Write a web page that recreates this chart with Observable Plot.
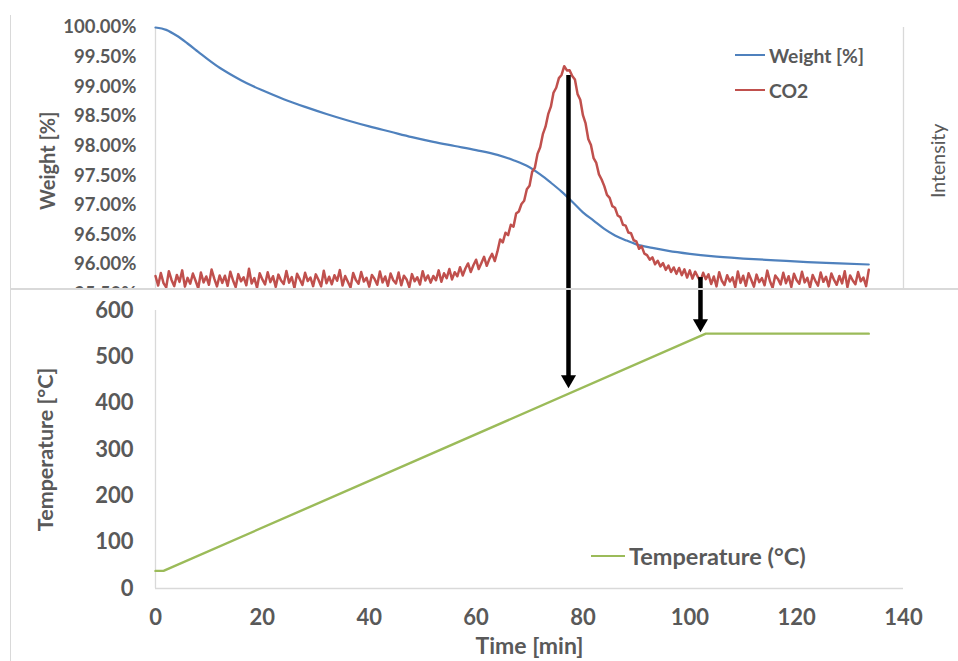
<!DOCTYPE html>
<html>
<head>
<meta charset="utf-8">
<script src="https://cdn.jsdelivr.net/npm/d3@7"></script>
<script src="https://cdn.jsdelivr.net/npm/@observablehq/plot@0.6"></script>
<style>
  html, body { margin: 0; padding: 0; background: #fff; }
  #fig { position: relative; width: 958px; height: 661px; overflow: hidden; font-family: Lato, "Open Sans", sans-serif; }
  #topClip { position: absolute; left: 0; top: 0; width: 958px; height: 289px; overflow: hidden; }
  #topClip svg, #bottom svg { position: absolute; left: 0; top: 0; }
  #bottom { position: absolute; left: 0; top: 289px; width: 958px; height: 372px; }
  .vline { position: absolute; left: 10px; top: 15px; width: 1px; height: 646px; background: #d9d9d9; }
  .hline { position: absolute; left: 10px; top: 288px; width: 948px; height: 1.5px; background: #d9d9d9; }
  .leg { position: absolute; display: flex; align-items: center; color: #595959; font-weight: bold; white-space: nowrap; }
  .leg .sw { display: inline-block; height: 2px; margin-right: 4px; }
</style>
</head>
<body>
<div id="fig">
  <div id="topClip"></div>
  <div id="bottom"></div>
  <div class="vline"></div>
  <div class="hline"></div>
</div>
<script>
// ---------- data ----------
const timeTicks = [0, 20, 40, 60, 80, 100, 120, 140];
const weightTicks = [95.5, 96, 96.5, 97, 97.5, 98, 98.5, 99, 99.5, 100];
const tempTicks = [0, 100, 200, 300, 400, 500, 600];

const weightTime = [0, 2, 4, 6, 8, 10, 12, 14, 16, 18, 20, 24, 28, 32, 36, 40, 44, 48, 52, 56, 60, 64, 67, 70, 72, 74, 76, 78, 80, 82, 84, 86, 88, 90, 93, 96, 100, 104, 110, 116, 122, 128, 133.5];
const weightPct = [100.00, 99.96, 99.86, 99.73, 99.59, 99.45, 99.32, 99.21, 99.11, 99.02, 98.94, 98.79, 98.66, 98.54, 98.43, 98.33, 98.24, 98.15, 98.07, 98.00, 97.93, 97.85, 97.76, 97.64, 97.52, 97.38, 97.23, 97.06, 96.88, 96.74, 96.60, 96.49, 96.41, 96.34, 96.28, 96.23, 96.18, 96.14, 96.10, 96.07, 96.04, 96.02, 96.00];

const tempTime = [0, 1.5, 103, 133.5];
const tempC = [38, 38, 550, 550];

// CO2 intensity (arbitrary units), sampled every 0.5 min from t = 0
const co2Step = 0.5;
const co2Intensity = [
  6.8, 3.2, 7.9, 4.1, 2.5, 8.6, 5.3, 3.0, 7.2, 4.6,
  8.9, 2.8, 6.1, 3.9, 7.7, 5.0, 2.2, 8.1, 4.4, 6.6,
  3.5, 9.2, 5.8, 2.9, 7.0, 4.2, 6.9, 3.1, 8.4, 5.2,
  2.6, 7.5, 4.8, 6.3, 3.3, 9.5, 4.0, 6.0, 2.4, 7.8,
  5.5, 3.6, 8.2, 4.5, 6.7, 2.7, 7.3, 5.1, 3.8, 8.7,
  4.3, 6.4, 2.3, 7.6, 5.6, 3.4, 8.0, 4.9, 6.2, 3.0,
  7.4, 5.4, 2.9, 8.8, 4.1, 6.5, 3.7, 7.1, 5.0, 9.0,
  3.2, 6.8, 4.6, 2.5, 7.9, 5.3, 3.9, 8.3, 4.7, 6.1,
  2.8, 7.2, 5.7, 3.5, 8.5, 4.4, 6.6, 3.1, 7.7, 5.2,
  4.0, 8.1, 3.3, 6.9, 5.5, 2.6, 7.5, 4.8, 6.3, 3.6,
  8.6, 5.1, 7.0, 4.3, 6.8,
  5.2, 8.9, 4.6, 7.8, 6.0, 9.4, 5.5, 8.2, 6.7, 10.1,
  7.0, 9.6, 11.5, 8.3, 10.8, 12.9, 9.4, 11.7, 14.0, 10.6,
  13.2, 15.1, 12.4, 16.0,
  20.5, 19.4, 23.0, 22.1, 26.0, 25.3, 30.2, 31.0, 33.8, 35.0,
  39.3, 40.6, 45.9, 47.4, 52.6, 55.1, 60.0, 62.8, 67.5, 70.3,
  75.6, 77.4, 81.0, 82.2, 85.5, 83.9,
  84.0, 81.8, 80.5, 75.0, 72.9, 67.1, 64.0, 58.2, 55.9, 51.0,
  49.2, 44.9, 43.0, 40.5, 37.2, 36.1, 33.0, 32.4, 29.5, 28.9,
  26.0, 25.7, 23.1, 22.8, 20.2, 19.8, 17.0, 17.9, 15.2, 14.6,
  12.9, 13.8, 11.2, 12.5, 10.4, 11.6, 9.1, 10.7, 8.3, 10.0,
  7.6, 9.8, 7.1, 9.3, 6.2, 8.9, 5.8, 8.4, 6.5, 4.9,
  8.0, 5.6,
  7.4, 3.8, 6.6, 2.9, 8.2, 5.0, 3.4, 7.1, 4.7, 6.3,
  2.6, 8.5, 4.2, 6.9, 3.1, 7.8, 5.4, 2.8, 7.3, 4.5,
  6.0, 3.3, 8.8, 4.9, 2.4, 7.0, 5.7, 3.6, 8.0, 4.1,
  6.7, 2.7, 7.6, 5.2, 3.9, 8.4, 4.4, 6.1, 2.5, 7.2,
  5.0, 3.2, 8.1, 4.6, 6.5, 2.9, 7.7, 5.3, 3.5, 6.8,
  4.0, 8.6, 2.6, 7.0, 5.1, 3.7, 8.3, 4.8, 6.2, 3.0, 9.1
];

// arrows: time, start on CO2 curve (intensity), tip on temperature curve (°C)
const arrowTime = [77.3, 102];
const arrowFromCO2 = [82.0, 6.2];
const arrowToTemp = [432, 553];

// ---------- build tables ----------
const weight = weightTime.map((t, i) => ({t, w: weightPct[i]}));
const temp = tempTime.map((t, i) => ({t, c: tempC[i]}));
const co2 = co2Intensity.map((v, i) => ({t: i * co2Step, v}));
const arrows = arrowTime.map((t, i) => ({t, from: arrowFromCO2[i], to: arrowToTemp[i]}));

const textColor = "#595959";
const axisGray = "#d9d9d9";
const font = "Lato, 'Open Sans', sans-serif";

// ---------- top: weight (primary) ----------
const topCommon = {
  width: 958, height: 310,
  marginLeft: 155, marginRight: 55, marginTop: 27, marginBottom: 16.4,
  x: {domain: [0, 140], axis: null}
};

const weightPlot = Plot.plot({
  ...topCommon,
  y: {domain: [95.5, 100], axis: null},
  style: {fontFamily: font, fontWeight: "bold", color: textColor, background: "transparent"},
  marks: [
    Plot.ruleX([0], {stroke: axisGray, strokeWidth: 1.3}),
    Plot.axisY({ticks: weightTicks, tickFormat: d => d.toFixed(2) + "%", tickSize: 0, tickPadding: 19, fontSize: 18.5, label: null}),
    Plot.text(["Weight [%]"], {text: d => d, frameAnchor: "left", textAnchor: "middle", lineAnchor: "middle", dx: -107, rotate: -90, fontSize: 20, fill: textColor}),
    Plot.line(weight, {x: "t", y: "w", stroke: "#4F81BD", strokeWidth: 2.2, curve: "monotone-x"})
  ]
});

// ---------- top: CO2 (secondary) ----------
const co2Plot = Plot.plot({
  ...topCommon,
  y: {domain: [0, 100], axis: null},
  style: {fontFamily: font, color: textColor, background: "transparent"},
  marks: [
    Plot.ruleX([140], {stroke: axisGray, strokeWidth: 1.3}),
    Plot.text(["Intensity"], {text: d => d, frameAnchor: "right", textAnchor: "middle", lineAnchor: "middle", dx: 35, rotate: -90, fontSize: 19.5, fill: textColor, fontWeight: "normal"}),
    Plot.line(co2, {x: "t", y: "v", stroke: "#C0504D", strokeWidth: 2.5}),
    Plot.ruleX(arrows, {x: "t", y1: "from", y2: -20, stroke: "black", strokeWidth: 4.5})
  ]
});

document.getElementById("topClip").append(weightPlot, co2Plot);

// ---------- bottom: temperature ----------
const tempPlot = Plot.plot({
  width: 958, height: 372,
  marginLeft: 155, marginRight: 55, marginTop: 21, marginBottom: 73,
  x: {domain: [0, 140], axis: null},
  y: {domain: [0, 600], axis: null},
  style: {fontFamily: font, fontWeight: "bold", color: textColor, background: "transparent"},
  marks: [
    Plot.ruleX([0], {stroke: axisGray, strokeWidth: 1.3}),
    Plot.ruleY([0], {stroke: axisGray, strokeWidth: 1.3}),
    Plot.axisX({ticks: timeTicks, tickSize: 0, tickPadding: 21, fontSize: 22, label: null}),
    Plot.axisY({ticks: tempTicks, tickSize: 0, tickPadding: 22, fontSize: 22, label: null}),
    Plot.text(["Temperature [°C]"], {text: d => d, frameAnchor: "left", textAnchor: "middle", lineAnchor: "middle", dx: -109, rotate: -90, fontSize: 21.5, fill: textColor}),
    Plot.text(["Time [min]"], {text: d => d, frameAnchor: "bottom", textAnchor: "middle", lineAnchor: "middle", dy: 58, fontSize: 23, fill: textColor}),
    Plot.line(temp, {x: "t", y: "c", stroke: "#9BBB59", strokeWidth: 2.4}),
    Plot.ruleX(arrows, {x: "t", y1: 800, y2: d => d.to + 16, stroke: "black", strokeWidth: 4.5}),
    Plot.dot(arrows, {x: "t", y: "to", symbol: "triangle", r: 5.6, fill: "black", stroke: null, rotate: 180, dy: -8.7})
  ]
});
document.getElementById("bottom").append(tempPlot);

// ---------- legends ----------
function legend(items, left, top, size, gap) {
  items.forEach(([label, color, sw], i) => {
    const d = document.createElement("div");
    d.className = "leg";
    d.style.left = left + "px";
    d.style.top = (top + i * gap - 14) + "px";
    d.style.height = "28px";
    d.style.fontSize = size + "px";
    const s = document.createElement("span");
    s.className = "sw";
    s.style.width = sw + "px";
    s.style.background = color;
    d.append(s, document.createTextNode(label));
    document.getElementById("fig").append(d);
  });
}
legend([["Weight [%]", "#4F81BD", 30], ["CO2", "#C0504D", 30]], 735, 55, 19.3, 35);
legend([["Temperature (°C)", "#9BBB59", 34]], 591, 556, 23.5, 0);
</script>
</body>
</html>
